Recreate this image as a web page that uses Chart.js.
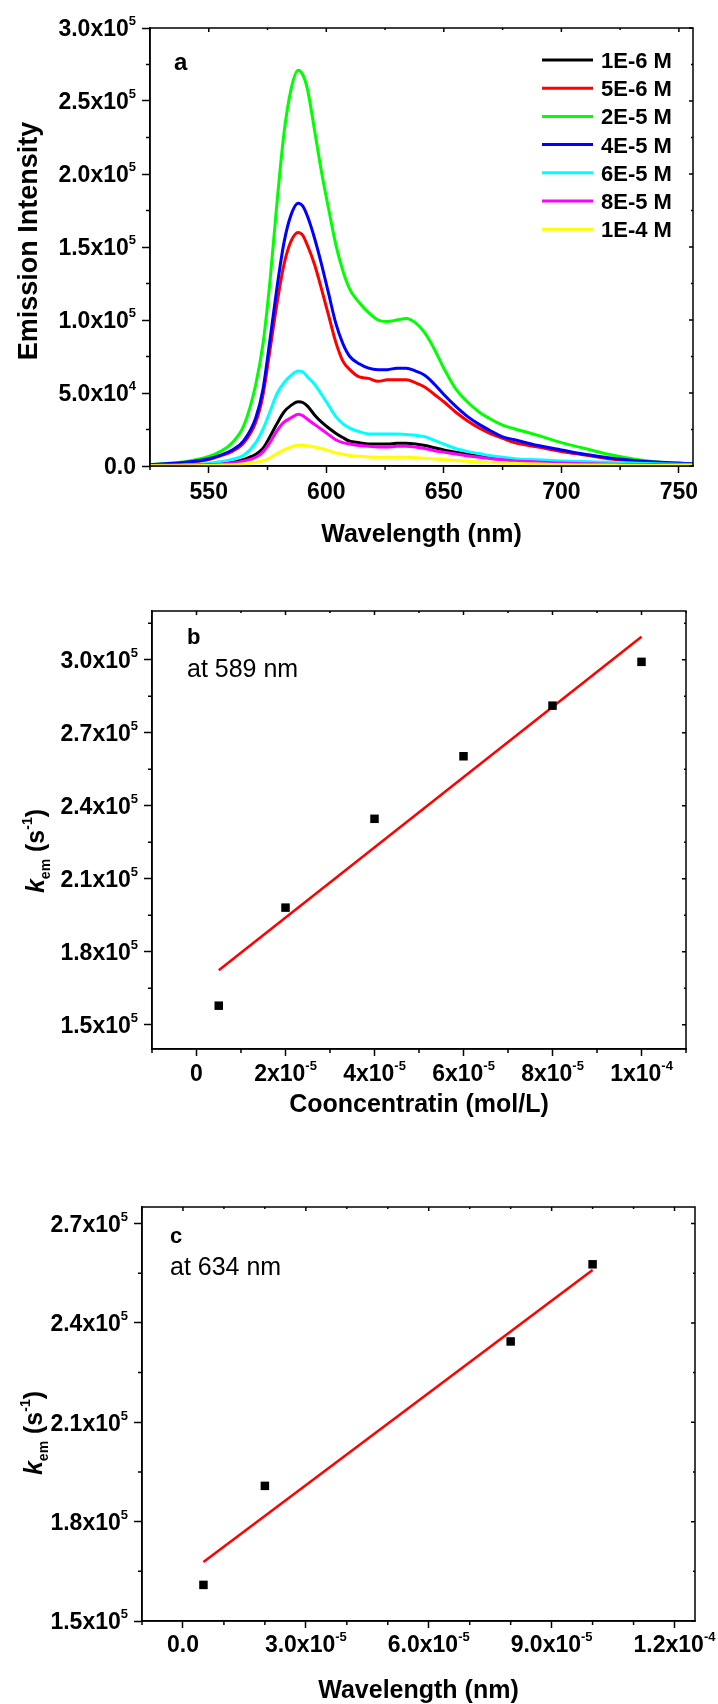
<!DOCTYPE html>
<html lang="en">
<head>
<meta charset="utf-8">
<title>Emission spectra and k_em</title>
<style>
  body { margin: 0; background: #fff; }
  canvas { position: absolute; left: 0; }
</style>
</head>
<body>
<canvas id="chartA" width="718" height="560" style="top:0"></canvas>
<canvas id="chartB" width="718" height="560" style="top:560px"></canvas>
<canvas id="chartC" width="718" height="584" style="top:1120px"></canvas>
<script src="https://cdn.jsdelivr.net/npm/chart.js@4.4.1/dist/chart.umd.min.js"></script>
<script>
// ---------- panel a: emission spectra ----------
const wavelengths = [525, 540, 550, 555, 560, 565, 570, 573, 576, 579, 582, 585, 588, 590, 592, 595, 598, 601, 604, 607,
  610, 614, 618, 622, 626, 630, 634, 638, 642, 646, 650, 655, 660, 665, 670, 675, 680, 690, 700, 710, 720, 730, 740, 756];

const em1E6 = [200, 500, 1000, 1500, 2500, 4500, 8000, 12000, 20000, 29000, 37000, 41500, 44000, 43500, 41000, 35000, 30000, 26000, 22500, 19500,
  17000, 16000, 15000, 15000, 15000, 15500, 15500, 15000, 14000, 12500, 11000, 9500, 8000, 6500, 5500, 4700, 4000, 3000, 2500, 2000, 1500, 1200, 1000, 500];
const em5E6 = [700, 2000, 4500, 7000, 10000, 16000, 30000, 48000, 79000, 111000, 138000, 154000, 160000, 158000, 151000, 138000, 121000, 103000, 85000, 72000,
  66000, 61000, 60000, 58000, 59000, 59000, 59000, 57000, 54000, 49000, 44000, 37000, 31000, 26000, 22000, 19000, 16000, 13000, 10000, 7500, 5000, 3500, 2500, 1500];
const em2E5 = [1000, 3000, 6500, 10000, 16000, 28000, 56000, 83000, 126000, 180000, 228000, 258000, 271000, 268000, 258000, 230000, 201000, 176000, 152000, 134000,
  121000, 112000, 105000, 100000, 99000, 100000, 101000, 98000, 91000, 80000, 67000, 53000, 44000, 37000, 32000, 28000, 25500, 21000, 16000, 12000, 8000, 5000, 3000, 1500];
const em4E5 = [800, 2500, 5000, 7500, 11000, 17500, 33000, 52000, 86000, 122000, 153000, 172000, 180000, 178000, 171000, 156000, 138000, 118000, 98000, 84000,
  75000, 70000, 67000, 66000, 66000, 67000, 67000, 65000, 62000, 56000, 49000, 41000, 34000, 28500, 24000, 20000, 18000, 14000, 11000, 8000, 5600, 4000, 2700, 1500];
const em6E5 = [300, 800, 1800, 3000, 4500, 7500, 16000, 25000, 37000, 49500, 57000, 62000, 65000, 64500, 61000, 56000, 49000, 41500, 34000, 29000,
  26000, 23500, 22000, 22000, 22000, 22000, 21500, 21000, 20000, 17500, 15000, 12000, 10000, 8500, 7000, 6000, 5000, 4200, 3500, 3000, 2500, 2000, 1500, 1000];
const em8E5 = [200, 400, 800, 1200, 2000, 3500, 6000, 9500, 16000, 24000, 30000, 33000, 35500, 34500, 32000, 28500, 25000, 21500, 18000, 16000,
  15000, 14000, 13500, 13000, 13000, 13500, 13500, 13000, 12000, 10500, 9500, 8200, 7000, 6000, 5000, 4200, 3500, 2800, 2000, 1600, 1200, 1000, 800, 500];
const em1E4 = [100, 200, 400, 600, 800, 1300, 2500, 3500, 5500, 8500, 11000, 13000, 14200, 14200, 13800, 13000, 12000, 10500, 9000, 8000,
  7200, 6600, 6200, 6000, 6000, 6000, 6000, 5700, 5300, 4800, 4400, 3800, 3300, 2800, 2500, 2000, 1800, 1300, 1000, 700, 600, 500, 400, 300];

const concLabels = ['1E-6 M', '5E-6 M', '2E-5 M', '4E-5 M', '6E-5 M', '8E-5 M', '1E-4 M'];
const concColors = ['#000000', '#ff0000', '#00ff00', '#0000ff', '#00ffff', '#ff00ff', '#ffff00'];
const spectra = [em1E6, em5E6, em2E5, em4E5, em6E5, em8E5, em1E4];

const aXTicks = [550, 600, 650, 700, 750];
const aXLabels = ['550', '600', '650', '700', '750'];
const aYTicks = [0, 5e4, 1e5, 1.5e5, 2e5, 2.5e5, 3e5];
const aYLabels = ['0.0', '5.0x10^4', '1.0x10^5', '1.5x10^5', '2.0x10^5', '2.5x10^5', '3.0x10^5'];

// ---------- panel b: k_em at 589 nm ----------
const concB = [5e-6, 2e-5, 4e-5, 6e-5, 8e-5, 1e-4];
const kem589 = [1.578e5, 1.981e5, 2.346e5, 2.603e5, 2.811e5, 2.991e5];
const fitXB = [5e-6, 1e-4];
const fitYB = [1.724e5, 3.094e5];
const bXTicks = [0, 2e-5, 4e-5, 6e-5, 8e-5, 1e-4];
const bXLabels = ['0', '2x10^-5', '4x10^-5', '6x10^-5', '8x10^-5', '1x10^-4'];
const bYTicks = [1.5e5, 1.8e5, 2.1e5, 2.4e5, 2.7e5, 3.0e5];
const bYLabels = ['1.5x10^5', '1.8x10^5', '2.1x10^5', '2.4x10^5', '2.7x10^5', '3.0x10^5'];

// ---------- panel c: k_em at 634 nm ----------
const concC = [5e-6, 2e-5, 8e-5, 1e-4];
const kem634 = [1.609e5, 1.908e5, 2.344e5, 2.577e5];
const fitXC = [5e-6, 1e-4];
const fitYC = [1.678e5, 2.560e5];
const cXTicks = [0, 3e-5, 6e-5, 9e-5, 1.2e-4];
const cXLabels = ['0.0', '3.0x10^-5', '6.0x10^-5', '9.0x10^-5', '1.2x10^-4'];
const cYTicks = [1.5e5, 1.8e5, 2.1e5, 2.4e5, 2.7e5];
const cYLabels = ['1.5x10^5', '1.8x10^5', '2.1x10^5', '2.4x10^5', '2.7x10^5'];

const FAMILY = '"Liberation Sans", Arial, Helvetica, sans-serif';
const TICK_SIZE = 23;
Chart.defaults.font.family = FAMILY;

// "3.0x10^5" -> main text + superscript
function parts(label) {
  const [main, exp] = label.split('^');
  const out = [{ t: main }];
  if (exp) out.push({ t: exp, sup: true });
  return out;
}

// draws text pieces side by side, caps centred on y
function drawRich(ctx, list, x, y, size, align, weight = 'bold') {
  ctx.save();
  ctx.textAlign = 'left';
  ctx.textBaseline = 'alphabetic';
  const fontOf = p => (p.italic ? 'italic ' : '') + weight + ' ' +
    ((p.sup || p.sub) ? Math.round(size * 0.58) : size) + 'px ' + FAMILY;
  let w = 0;
  for (const p of list) { ctx.font = fontOf(p); p.w = ctx.measureText(p.t).width; w += p.w; }
  let cx = align === 'right' ? x - w : align === 'center' ? x - w / 2 : x;
  const base = y + size * 0.36;
  for (const p of list) {
    ctx.font = fontOf(p);
    ctx.fillText(p.t, cx, base + (p.sup ? -size * 0.48 : p.sub ? size * 0.22 : 0));
    cx += p.w;
  }
  ctx.restore();
}

function minorTicks(major, n, min, max) {
  const step = (major[1] - major[0]) / n;
  const out = [];
  for (let k = -n; ; k++) {
    const v = major[0] + k * step;
    if (v > max + step * 1e-6) break;
    if (v < min - step * 1e-6 || k % n === 0) continue;
    out.push(v);
  }
  return out;
}

function axis(min, max, ticks, tickLen, size) {
  return {
    type: 'linear', min, max,
    afterBuildTicks: s => { s.ticks = ticks.map(v => ({ value: v })); },
    afterFit: s => { if (s.isHorizontal()) s.height = size; else s.width = size; },
    ticks: { display: false },
    grid: { drawOnChartArea: false, tickLength: tickLen, tickWidth: 1.5, tickColor: '#000' },
    border: { color: '#000', width: 1.5 }
  };
}

// frame, minor ticks, tick labels, titles, letters, legend
function deco(cfg) {
  return {
    id: 'deco',
    afterDraw(chart) {
      const { ctx, chartArea: a } = chart;
      const x = chart.scales.x, y = chart.scales.y;
      ctx.save();
      ctx.strokeStyle = '#000';
      ctx.fillStyle = '#000';
      ctx.lineWidth = 1.5;
      ctx.strokeRect(a.left, a.top, a.right - a.left, a.bottom - a.top);
      ctx.beginPath();
      for (const v of minorTicks(cfg.xTicks, cfg.xParts, x.min, x.max)) {
        const px = x.getPixelForValue(v);
        ctx.moveTo(px, a.bottom); ctx.lineTo(px, a.bottom + 4);
        ctx.moveTo(px, a.top); ctx.lineTo(px, a.top + 2);
      }
      for (const v of cfg.xTicks) {
        const px = x.getPixelForValue(v);
        ctx.moveTo(px, a.top); ctx.lineTo(px, a.top + 4);
      }
      for (const v of minorTicks(cfg.yTicks, cfg.yParts, y.min, y.max)) {
        const py = y.getPixelForValue(v);
        ctx.moveTo(a.left - 4, py); ctx.lineTo(a.left, py);
        ctx.moveTo(a.right - 2, py); ctx.lineTo(a.right, py);
      }
      for (const v of cfg.yTicks) {
        const py = y.getPixelForValue(v);
        ctx.moveTo(a.right - 4, py); ctx.lineTo(a.right, py);
      }
      ctx.stroke();

      cfg.xTicks.forEach((v, i) =>
        drawRich(ctx, parts(cfg.xLabels[i]), x.getPixelForValue(v), a.bottom + cfg.xLabelGap, TICK_SIZE, 'center'));
      cfg.yTicks.forEach((v, i) =>
        drawRich(ctx, parts(cfg.yLabels[i]), a.left - 14, y.getPixelForValue(v), TICK_SIZE, 'right'));

      drawRich(ctx, [{ t: cfg.xTitle }], (a.left + a.right) / 2, cfg.xTitleY, 25, 'center');
      ctx.save();
      ctx.translate(cfg.yTitleX, cfg.yTitleY);
      ctx.rotate(-Math.PI / 2);
      drawRich(ctx, cfg.yTitle, 0, 0, cfg.yTitleSize, 'center');
      ctx.restore();

      ctx.textAlign = 'left';
      ctx.textBaseline = 'alphabetic';
      ctx.font = 'bold ' + cfg.letterSize + 'px ' + FAMILY;
      ctx.fillText(cfg.letter, a.left + cfg.letterDx, cfg.letterY);
      if (cfg.note) {
        ctx.font = '25px ' + FAMILY;
        ctx.fillText(cfg.note, a.left + cfg.letterDx, cfg.noteY);
      }

      if (cfg.legend) {
        chart.data.datasets.forEach((ds, i) => {
          const ly = 60 + i * 28.2;
          ctx.strokeStyle = ds.borderColor;
          ctx.lineWidth = 3;
          ctx.beginPath();
          ctx.moveTo(542, ly); ctx.lineTo(593, ly);
          ctx.stroke();
          drawRich(ctx, [{ t: ds.label }], 601, ly, 22, 'left');
        });
      }
      ctx.restore();
    }
  };
}

const baseOptions = (pad) => ({
  responsive: false,
  animation: false,
  layout: { padding: pad },
  plugins: { legend: { display: false }, tooltip: { enabled: false } }
});

// panel a
new Chart(document.getElementById('chartA'), {
  type: 'line',
  data: {
    datasets: spectra.map((s, i) => ({
      label: concLabels[i],
      data: wavelengths.map((w, j) => ({ x: w, y: s[j] })),
      borderColor: concColors[i],
      borderWidth: 3,
      pointRadius: 0,
      cubicInterpolationMode: 'monotone',
      order: -i
    }))
  },
  options: Object.assign(baseOptions({ top: 28, right: 25, left: 0, bottom: 0 }), {
    scales: {
      x: axis(525, 756, aXTicks, 7, 94),
      y: axis(0, 3e5, aYTicks, 8, 150)
    }
  }),
  plugins: [deco({
    xTicks: aXTicks, xLabels: aXLabels, xParts: 2, xLabelGap: 25,
    yTicks: aYTicks, yLabels: aYLabels, yParts: 2,
    xTitle: 'Wavelength (nm)', xTitleY: 533,
    yTitle: [{ t: 'Emission Intensity' }], yTitleSize: 27, yTitleX: 27, yTitleY: 241,
    letter: 'a', letterSize: 24, letterDx: 24, letterY: 70,
    legend: true
  })]
});

const kTitle = () => [{ t: 'k', italic: true }, { t: 'em', sub: true }, { t: ' (s' }, { t: '-1', sup: true }, { t: ')' }];

function rateChart(id, xs, ys, fx, fy, xr, yr, xTicks, yTicks, pad, sizes, cfg) {
  new Chart(document.getElementById(id), {
    type: 'scatter',
    data: {
      datasets: [
        {
          data: xs.map((v, i) => ({ x: v, y: ys[i] })),
          pointStyle: 'rect', pointRadius: 6,
          backgroundColor: '#000', borderWidth: 0
        },
        {
          data: fx.map((v, i) => ({ x: v, y: fy[i] })),
          showLine: true, pointRadius: 0,
          borderColor: '#ff0000', borderWidth: 2.5
        }
      ]
    },
    options: Object.assign(baseOptions(pad), {
      scales: {
        x: axis(xr[0], xr[1], xTicks, 7, sizes[0]),
        y: axis(yr[0], yr[1], yTicks, 8, sizes[1])
      }
    }),
    plugins: [deco(cfg)]
  });
}

// panel b
rateChart('chartB', concB, kem589, fitXB, fitYB, [-1e-5, 1.1e-4], [1.4e5, 3.2e5], bXTicks, bYTicks,
  { top: 51, right: 32, left: 0, bottom: 0 }, [71, 152], {
    xTicks: bXTicks, xLabels: bXLabels, xParts: 2, xLabelGap: 24,
    yTicks: bYTicks, yLabels: bYLabels, yParts: 2,
    xTitle: 'Cooncentratin (mol/L)', xTitleY: 543,
    yTitle: kTitle(), yTitleSize: 25, yTitleX: 35, yTitleY: 291,
    letter: 'b', letterSize: 22, letterDx: 35, letterY: 84,
    note: 'at 589 nm', noteY: 117
  });

// panel c
rateChart('chartC', concC, kem634, fitXC, fitYC, [-1e-5, 1.25e-4], [1.5e5, 2.75e5], cXTicks, cYTicks,
  { top: 87, right: 23, left: 0, bottom: 0 }, [83, 142], {
    xTicks: cXTicks, xLabels: cXLabels, xParts: 3, xLabelGap: 23,
    yTicks: cYTicks, yLabels: cYLabels, yParts: 2,
    xTitle: 'Wavelength (nm)', xTitleY: 569,
    yTitle: kTitle(), yTitleSize: 25, yTitleX: 33, yTitleY: 313,
    letter: 'c', letterSize: 22, letterDx: 28, letterY: 123,
    note: 'at 634 nm', noteY: 155
  });
</script>
</body>
</html>
